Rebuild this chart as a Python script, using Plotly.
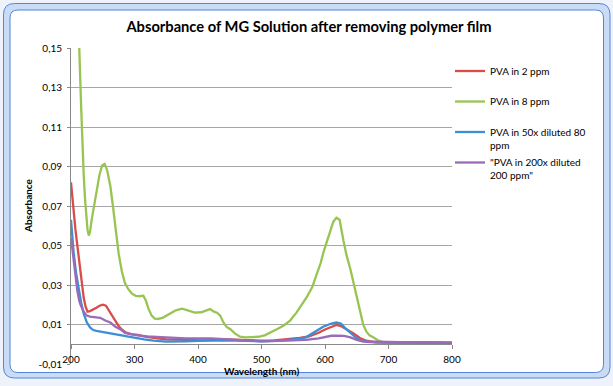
import plotly.graph_objects as go

# ---------------- data ----------------
wl_red = [200, 202, 205, 207, 210, 212, 215, 217, 220, 223, 226, 230, 235, 240, 245, 250, 255, 260, 265, 270,
          275, 280, 285, 290, 296, 305, 315, 330, 350, 380, 410, 440, 470, 500, 520, 540, 560, 575, 590, 600,
          610, 618, 625, 635, 645, 655, 665, 680, 700, 750, 800]
abs_red = [0.082, 0.074, 0.064, 0.058, 0.050, 0.044, 0.035, 0.029, 0.0235, 0.019, 0.0165, 0.0168, 0.0175, 0.0185,
           0.0195, 0.020, 0.0195, 0.017, 0.0145, 0.012, 0.0092, 0.0075, 0.0062, 0.0055, 0.005, 0.0048, 0.004,
           0.0032, 0.0025, 0.0022, 0.002, 0.0025, 0.0022, 0.0018, 0.002, 0.0025, 0.0032, 0.004, 0.0058, 0.0075,
           0.009, 0.0098, 0.0092, 0.0075, 0.0055, 0.0032, 0.0018, 0.001, 0.0008, 0.0008, 0.0006]

wl_green = [200, 205, 210, 213, 216, 218, 220, 222, 224, 226, 228, 230, 233, 237, 241, 245, 249, 253, 257, 262,
            266, 270, 275, 280, 285, 290, 296, 302, 308, 314, 318, 322, 327, 332, 337, 345, 355, 365, 375, 385,
            395, 405, 412, 419, 425, 430, 435, 440, 445, 451, 458, 466, 475, 485, 495, 505, 515, 525, 535, 545,
            555, 565, 571, 580, 587, 593, 598, 603, 608, 613, 618, 623, 629, 634, 640, 645, 650, 655, 660, 665,
            670, 676, 683, 692, 700, 720, 740, 760, 780, 800]
abs_green = [0.40, 0.30, 0.20, 0.15, 0.12, 0.10, 0.086, 0.074, 0.064, 0.058, 0.055, 0.057, 0.064, 0.072, 0.0796,
             0.086, 0.0905, 0.0913, 0.088, 0.080, 0.070, 0.059, 0.046, 0.037, 0.031, 0.028, 0.0256, 0.0245,
             0.0243, 0.0246, 0.022, 0.018, 0.0145, 0.013, 0.0128, 0.0135, 0.0155, 0.0172, 0.018, 0.017, 0.016,
             0.0162, 0.0172, 0.0178, 0.0165, 0.016, 0.0145, 0.011, 0.0088, 0.0076, 0.0055, 0.0038, 0.0035,
             0.0035, 0.0038, 0.0045, 0.006, 0.0077, 0.0095, 0.012, 0.016, 0.021, 0.0237, 0.029, 0.035, 0.041,
             0.047, 0.052, 0.057, 0.062, 0.064, 0.063, 0.0525, 0.045, 0.038, 0.031, 0.0237, 0.016, 0.0102,
             0.0065, 0.0045, 0.0035, 0.002, 0.001, 0.001, 0.0009, 0.001, 0.0009, 0.0008, 0.0008]

wl_blue = [200, 202, 204, 208, 212, 216, 220, 225, 230, 235, 240, 250, 260, 270, 280, 290, 300, 315, 330, 350,
           380, 420, 460, 500, 530, 550, 561, 570, 582, 590, 597, 603, 610, 618, 625, 634, 640, 645, 650, 655,
           665, 680, 720, 760, 800]
abs_blue = [0.063, 0.055, 0.047, 0.036, 0.028, 0.021, 0.0155, 0.011, 0.0085, 0.0072, 0.0068, 0.0062, 0.0056,
            0.005, 0.0045, 0.004, 0.0035, 0.0025, 0.0018, 0.0013, 0.0015, 0.002, 0.0018, 0.0015, 0.0018, 0.0022,
            0.0028, 0.0035, 0.006, 0.0075, 0.0089, 0.0096, 0.0105, 0.011, 0.0105, 0.0075, 0.0058, 0.0043, 0.003,
            0.0022, 0.0012, 0.001, 0.0008, 0.0008, 0.0006]

wl_purple = [200, 202, 205, 207, 210, 213, 215, 220, 225, 230, 238, 246, 254, 262, 270, 278, 285, 293, 305, 320,
             350, 380, 420, 450, 470, 500, 540, 570, 590, 600, 610, 620, 630, 640, 650, 660, 680, 720, 760, 800]
abs_purple = [0.054, 0.049, 0.040, 0.034, 0.027, 0.022, 0.020, 0.0165, 0.0145, 0.014, 0.0136, 0.0134, 0.012,
              0.011, 0.0088, 0.0075, 0.0058, 0.0052, 0.0045, 0.004, 0.0035, 0.003, 0.003, 0.0025, 0.0018, 0.0015,
              0.0018, 0.0022, 0.003, 0.0038, 0.0043, 0.0044, 0.0042, 0.0035, 0.0022, 0.0014, 0.0012, 0.001,
              0.001, 0.0009]

series_names = ["PVA in 2 ppm<br>\u00a0", "PVA in 8 ppm<br>\u00a0", "PVA in 50x diluted 80<br>ppm",
                "\"PVA in 200x diluted<br>200 ppm\""]
x_ticks = [200, 300, 400, 500, 600, 700, 800]
y_ticks = [-0.01, 0.01, 0.03, 0.05, 0.07, 0.09, 0.11, 0.13, 0.15]
y_ticktext = ["-0,01", "0,01", "0,03", "0,05", "0,07", "0,09", "0,11", "0,13", "0,15"]
grid_vals = [0.01, 0.03, 0.05, 0.07, 0.09, 0.11, 0.13, 0.15]

# ---------------- figure ----------------
W, H = 613, 386
ML, MR, MT, MB = 71, 161, 48, 22
PW, PH = W - ML - MR, H - MT - MB
FONT = "Lato, Carlito, 'Liberation Sans', sans-serif"


def px(xp):
    return (xp - ML) / PW


def py(yp):
    return (H - MB - yp) / PH


def rrect(x0, y0, x1, y1, r):
    X0, X1 = px(x0), px(x1)
    Y0, Y1 = py(y0), py(y1)
    rx, ry = r / PW, r / PH
    return (f"M {X0 + rx},{Y0} L {X1 - rx},{Y0} Q {X1},{Y0} {X1},{Y0 - ry} "
            f"L {X1},{Y1 + ry} Q {X1},{Y1} {X1 - rx},{Y1} L {X0 + rx},{Y1} "
            f"Q {X0},{Y1} {X0},{Y1 + ry} L {X0},{Y0 - ry} Q {X0},{Y0} {X0 + rx},{Y0} Z")


colors = ["#DA4B4B", "#98C452", "#3E8ED3", "#9A6BB8"]
data = [(wl_red, abs_red), (wl_green, abs_green), (wl_blue, abs_blue), (wl_purple, abs_purple)]

fig = go.Figure()
for i, ((xs, ys), name, c) in enumerate(zip(data, series_names, colors)):
    fig.add_trace(go.Scatter(x=xs, y=ys, mode="lines", name=name, legendgroup=f"g{i}",
                             line=dict(color=c, width=2.3)))

# helper traces to activate overlay axes
fig.add_trace(go.Scatter(x=[None], y=[None], xaxis="x", yaxis="y2", showlegend=False, hoverinfo="skip"))
fig.add_trace(go.Scatter(x=[None], y=[None], xaxis="x2", yaxis="y", showlegend=False, hoverinfo="skip"))

fig.update_layout(
    width=W, height=H, autosize=False,
    margin=dict(l=ML, r=MR, t=MT, b=MB, pad=0),
    paper_bgcolor="#eef3fb", plot_bgcolor="rgba(0,0,0,0)",
    font=dict(family=FONT, size=10, color="black"),
    title=dict(text="<b>Absorbance of MG Solution after removing polymer film</b>",
               x=309 / W, xref="container", xanchor="center",
               y=1 - 27 / H, yref="container", yanchor="middle",
               font=dict(family=FONT, size=14.7, color="black")),
    xaxis=dict(range=[200, 800], tickvals=x_ticks, showgrid=False, zeroline=False, showline=False,
               ticks="", anchor="free", position=0.038, tickfont=dict(size=10)),
    xaxis2=dict(range=[200, 800], overlaying="x", anchor="free", position=0.0625, tickvals=x_ticks,
                showticklabels=False, ticks="outside", ticklen=4, tickcolor="#8a8a8a",
                showline=True, linecolor="#8a8a8a", linewidth=1, showgrid=False, zeroline=False),
    yaxis=dict(range=[-0.01, 0.15], tickvals=y_ticks, ticktext=y_ticktext, showgrid=False, zeroline=False,
               showline=True, linecolor="#8a8a8a", linewidth=1, ticks="outside", ticklen=3,
               tickcolor="#8a8a8a", ticklabelstandoff=3, tickfont=dict(size=10)),
    yaxis2=dict(range=[-0.01, 0.15], overlaying="y", tickvals=grid_vals, showticklabels=False,
                showgrid=True, gridcolor="#a6a6a6", gridwidth=1, zeroline=False, showline=False, ticks=""),
    legend=dict(x=px(450), y=py(58), xanchor="left", yanchor="top", valign="top",
                tracegroupgap=1.5, bgcolor="rgba(0,0,0,0)", font=dict(family=FONT, size=10)),
    showlegend=True,
    shapes=[
        dict(type="path", xref="paper", yref="paper", path=rrect(3.5, 3.5, 610, 378, 11),
             fillcolor="#cadcf5", line=dict(color="#5585d6", width=1), layer="below"),
        dict(type="path", xref="paper", yref="paper", path=rrect(10, 10, 603.5, 372.5, 8),
             fillcolor="white", line=dict(color="#5585d6", width=1), layer="below"),
    ],
    annotations=[
        dict(text="<b>Absorbance</b>", xref="paper", yref="paper", x=px(28), y=0.5, textangle=-90,
             showarrow=False, xanchor="center", yanchor="middle", font=dict(family=FONT, size=10)),
        dict(text="<b>Wavelength (nm)</b>", xref="paper", yref="paper", x=0.5, y=py(371),
             showarrow=False, xanchor="center", yanchor="middle", font=dict(family=FONT, size=10)),
    ],
)

fig.write_html("out.html", config={"displayModeBar": False},
               post_script="document.body.style.margin='0';document.body.style.overflow='hidden';")
